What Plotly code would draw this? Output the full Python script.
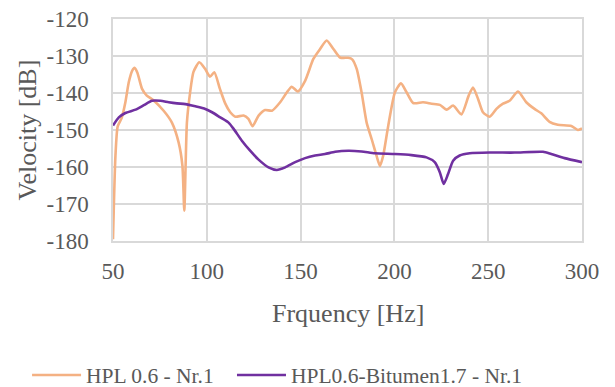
import plotly.graph_objects as go

# Frequency [Hz] and velocity [dB]
hpl_freq = [50, 51.3, 52.5, 54.6, 56.6, 58.4, 60.2, 61.5, 63, 65.5, 68, 71.7, 77, 81.4, 85, 87, 88,
            89.4, 91.1, 92.9, 96, 99, 101.7, 104, 107, 109.8, 112.5, 115.2, 119.6, 122.2, 124.4,
            127.6, 131.1, 134.7, 139.1, 142.7, 145.3, 148.5, 152.4, 156.8, 160.4, 163.9, 167.5,
            171, 175.4, 177.5, 179.9, 182.5, 185.2, 187.9, 190.5, 192.3, 194, 196.7, 200.3, 203.5,
            206.5, 210, 215.3, 219.8, 224.2, 227.8, 231.3, 235.7, 239.6, 241.9, 244.6, 247.2,
            250.8, 254.4, 257.9, 261.4, 265.9, 270.3, 274.7, 278.3, 282.7, 287.1, 294.3, 297.8, 300]
hpl_vel = [-179.5, -157, -149, -146.8, -142.5, -137.1, -134, -133.2, -134.5, -138.9, -140.7, -142,
           -144.8, -148, -153.4, -159.6, -171.8, -148, -139.9, -134.3, -131.7, -133.4, -135.6,
           -134.4, -138.9, -142.8, -145.2, -146.4, -146.1, -147, -149, -146.1, -144.6, -144.8,
           -142.5, -139.8, -138.3, -139.6, -136.7, -130.8, -128.1, -125.8, -128.1, -130.4, -130.5,
           -130.9, -133.5, -139.8, -148, -152.5, -157, -159.7, -157, -148.9, -139.8, -137.4,
           -139.8, -142.7, -142.5, -142.9, -143.2, -144.5, -143.4, -145.8, -140.7, -138.5,
           -141.6, -145.2, -146.4, -144.3, -142.9, -142.1, -139.6, -142.5, -144.3, -145.5,
           -147.8, -148.6, -148.9, -150, -149.6]

bit_freq = [50, 53.1, 56.6, 62, 66.4, 70.8, 75.3, 79.7, 84.1, 88.6, 93.9, 99.2, 102.8, 107.2,
            111.6, 114.3, 118.7, 123.1, 127.6, 132.9, 137.3, 141.8, 147.1, 152.4, 157.7, 163,
            168.4, 175.4, 182.5, 189.6, 200.3, 209.1, 217.1, 221.5, 224.2, 226.3, 228.6, 231.3,
            234.8, 240.2, 250.8, 264.1, 279.2, 283.6, 290.7, 300]
bit_vel = [-148.8, -146.6, -145.4, -144.5, -143.3, -142.1, -142.1, -142.5, -142.8, -143, -143.6,
           -144.3, -145.2, -146.6, -148, -149.7, -152.9, -155.6, -158, -160.1, -160.8, -160.1,
           -158.7, -157.6, -156.9, -156.5, -155.9, -155.6, -155.8, -156.3, -156.5, -156.8,
           -157.4, -158.7, -161.4, -164.6, -161.9, -158.3, -156.9, -156.3, -156.1, -156.1,
           -155.9, -156.5, -157.6, -158.7]

series_names = ["HPL 0.6 - Nr.1", "HPL0.6-Bitumen1.7 - Nr.1"]
x_ticks = [50, 100, 150, 200, 250, 300]
x_tick_labels = ["50", "100", "150", "200", "250", "300"]
y_ticks = [-180, -170, -160, -150, -140, -130, -120]
y_tick_labels = ["-180", "-170", "-160", "-150", "-140", "-130", "-120"]

FONT = "Liberation Serif"
TXT = "#595959"
GRID = "#d9d9d9"

fig = go.Figure()
fig.add_trace(go.Scatter(x=hpl_freq, y=hpl_vel, mode="lines", name=series_names[0],
                         legend="legend",
                         line=dict(color="#F4B183", width=2.6, shape="spline", smoothing=0.6)))
fig.add_trace(go.Scatter(x=bit_freq, y=bit_vel, mode="lines", name=series_names[1],
                         legend="legend2",
                         line=dict(color="#7030A0", width=2.6, shape="spline", smoothing=0.6)))

legend_common = dict(orientation="h", xref="container", yref="container",
                     xanchor="left", y=0.0517, yanchor="middle", itemwidth=49,
                     font=dict(family=FONT, size=21.5, color=TXT), bgcolor="rgba(0,0,0,0)")

fig.update_layout(
    width=615, height=387,
    margin=dict(l=104.5, r=40.7, t=11, b=154.3, autoexpand=False),
    paper_bgcolor="white", plot_bgcolor="white",
    font=dict(family=FONT, color=TXT, size=22),
    showlegend=True,
    legend=dict(x=0.031, **legend_common),
    legend2=dict(x=0.3642, **legend_common),
    xaxis=dict(range=[50, 300], tickvals=x_ticks, ticktext=x_tick_labels, showgrid=True,
               gridcolor=GRID, gridwidth=1.5,
               showline=True, mirror=True, linecolor=GRID, linewidth=1.5, zeroline=False,
               ticks="outside", ticklen=9, tickcolor="rgba(0,0,0,0)", ticklabeloverflow="allow",
               tickfont=dict(size=23, color=TXT, family=FONT)),
    yaxis=dict(range=[-180, -120], tickvals=y_ticks, ticktext=y_tick_labels, showgrid=True,
               gridcolor=GRID, gridwidth=1.5,
               showline=True, mirror=True, linecolor=GRID, linewidth=1.5, zeroline=False,
               ticks="outside", ticklen=18, tickcolor="rgba(0,0,0,0)", ticklabeloverflow="allow",
               tickfont=dict(size=23, color=TXT, family=FONT)),
    annotations=[
        dict(text="Frquency [Hz]", xref="paper", yref="paper", x=0.5, y=-0.325,
             xanchor="center", yanchor="middle", showarrow=False,
             font=dict(family=FONT, size=26, color=TXT)),
        dict(text="Velocity [dB]", xref="paper", yref="paper", x=-0.1844, y=0.5,
             xanchor="center", yanchor="middle", textangle=-90, showarrow=False,
             font=dict(family=FONT, size=26, color=TXT)),
    ],
)

fig.write_html("out.html")
